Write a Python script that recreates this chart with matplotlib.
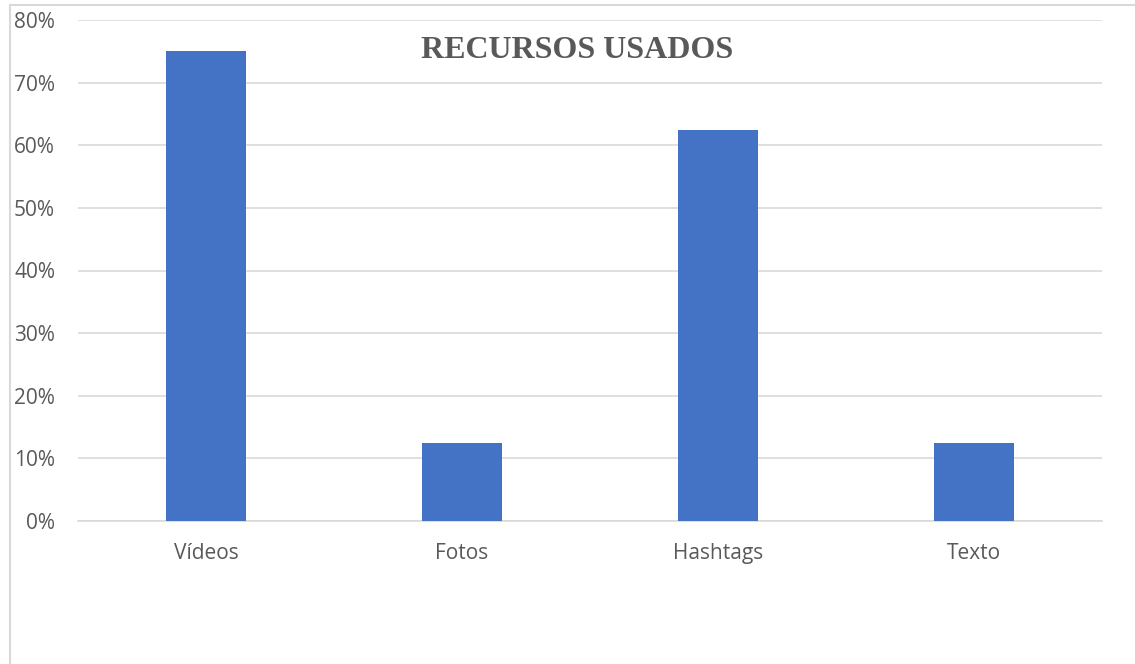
import matplotlib.pyplot as plt
from matplotlib.ticker import PercentFormatter
from matplotlib.patches import Rectangle

categorias = ['Vídeos', 'Fotos', 'Hashtags', 'Texto']
valores = [75, 12.5, 62.5, 12.5]
ticks_y = [0, 10, 20, 30, 40, 50, 60, 70, 80]

W, H = 1135, 664
fig = plt.figure(figsize=(W / 100, H / 100), dpi=100)
ax = fig.add_axes([78 / W, 1 - 521 / H, (1101.6 - 78) / W, (521 - 20) / H])

ax.bar(range(len(categorias)), valores, width=0.313, color='#4472C4', zorder=3)
ax.set_xlim(-0.5, len(categorias) - 0.5)
ax.set_ylim(0, 80)
ax.set_yticks(ticks_y)
ax.yaxis.set_major_formatter(PercentFormatter(decimals=0))
ax.set_xticks(range(len(categorias)))
ax.set_xticklabels(categorias)

ax.grid(axis='y', color='#D9D9D9', linewidth=1.2, zorder=0)
for s in ['top', 'right', 'left']:
    ax.spines[s].set_visible(False)
ax.spines['bottom'].set_color('#D9D9D9')
ax.spines['bottom'].set_linewidth(1.2)
ax.tick_params(length=0, labelsize=15, colors='#595959')
ax.tick_params(axis='x', pad=16)
ax.tick_params(axis='y', pad=16.5)
for lbl in ax.get_xticklabels() + ax.get_yticklabels():
    lbl.set_fontfamily('Open Sans')

fig.text(577 / W, 1 - 50 / H, 'RECURSOS USADOS', ha='center', va='center',
         fontsize=23, fontweight='bold', family='Liberation Serif', color='#595959')

# borde del gráfico (solo izquierda y arriba visibles)
fig.patches.append(Rectangle((10 / W, -0.1), 1.2, 1 - 5 / H + 0.1, transform=fig.transFigure,
                             fill=False, edgecolor='#D9D9D9', linewidth=1.5))

fig.savefig('out.png', dpi=100)
